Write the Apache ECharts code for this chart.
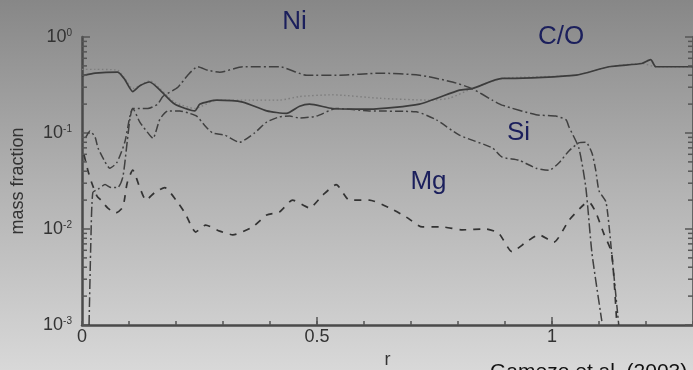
<!DOCTYPE html>
<html><head><meta charset="utf-8">
<script src="https://cdn.jsdelivr.net/npm/echarts@6/dist/echarts.min.js"></script>
<style>html,body{margin:0;padding:0;background:#aaa;}#c{width:693px;height:370px;}</style>
</head><body><div id="c"></div>
<script>
// ---- data (r, mass fraction) ----
const niR = [0.015,0.019,0.023,0.034,0.049,0.062,0.076,0.087,0.096,0.102,0.108,0.123,0.140,0.161,0.172,0.204,0.225,0.246,0.268,0.293,0.342,0.420,0.478,0.548,0.633,0.718,0.788,0.830,0.873,0.894,0.966,1.008,1.030,1.036,1.057,1.072,1.085,1.106];
const niV = [0.001,0.008,0.024,0.026,0.029,0.027,0.027,0.035,0.08,0.14,0.18,0.18,0.18,0.20,0.24,0.30,0.40,0.49,0.45,0.43,0.49,0.49,0.40,0.40,0.42,0.40,0.34,0.29,0.22,0.195,0.155,0.15,0.137,0.116,0.07,0.027,0.0056,0.0011];

const siR = [0.008,0.017,0.028,0.034,0.049,0.059,0.074,0.091,0.102,0.108,0.123,0.144,0.151,0.166,0.183,0.208,0.229,0.244,0.261,0.278,0.304,0.335,0.367,0.393,0.420,0.442,0.463,0.499,0.541,0.611,0.711,0.754,0.803,0.873,0.894,0.930,0.966,0.994,1.015,1.036,1.057,1.072,1.085,1.093,1.100,1.115,1.127,1.142];
const siV = [0.09,0.105,0.09,0.07,0.05,0.043,0.049,0.08,0.15,0.18,0.13,0.095,0.088,0.14,0.17,0.17,0.16,0.15,0.12,0.10,0.095,0.08,0.10,0.13,0.147,0.15,0.143,0.15,0.18,0.17,0.166,0.137,0.095,0.07,0.056,0.052,0.043,0.041,0.049,0.065,0.079,0.08,0.062,0.041,0.025,0.019,0.0056,0.001];

const mgR = [0.004,0.013,0.021,0.032,0.040,0.055,0.072,0.087,0.096,0.108,0.123,0.136,0.155,0.176,0.200,0.219,0.242,0.263,0.293,0.321,0.363,0.393,0.420,0.448,0.484,0.512,0.541,0.569,0.611,0.654,0.690,0.724,0.766,0.809,0.860,0.887,0.915,0.945,0.972,1.004,1.036,1.068,1.079,1.093,1.110,1.127,1.138];
const mgV = [0.06,0.04,0.03,0.022,0.02,0.0165,0.0147,0.017,0.03,0.041,0.027,0.02,0.024,0.027,0.02,0.0147,0.0093,0.011,0.0095,0.0087,0.0105,0.014,0.015,0.02,0.0166,0.0225,0.029,0.02,0.02,0.0166,0.0133,0.0105,0.0105,0.0098,0.01,0.009,0.0058,0.0073,0.0087,0.0073,0.0123,0.018,0.019,0.015,0.009,0.0056,0.001];

const coR = [0,0.006,0.028,0.076,0.091,0.108,0.123,0.144,0.166,0.197,0.240,0.251,0.287,0.342,0.393,0.435,0.463,0.484,0.533,0.611,0.718,0.803,0.830,0.894,0.909,1.051,1.121,1.191,1.210,1.221,1.30];
const coV = [0.39,0.40,0.42,0.43,0.36,0.27,0.31,0.34,0.28,0.20,0.17,0.20,0.22,0.21,0.17,0.16,0.19,0.20,0.18,0.177,0.20,0.28,0.29,0.37,0.37,0.40,0.49,0.53,0.58,0.49,0.49];

const dotR = [0,0.028,0.076,0.091,0.108,0.144,0.166,0.197,0.240,0.287,0.357,0.420,0.463,0.533,0.633,0.739,0.781,0.830,0.894,1.051,1.121,1.191,1.221,1.30];
const dotV = [0.46,0.46,0.45,0.37,0.29,0.35,0.29,0.21,0.18,0.22,0.22,0.22,0.24,0.25,0.23,0.22,0.23,0.29,0.37,0.40,0.49,0.53,0.49,0.49];

const xTickLabels = ['0','0.5','1'];
const xMajorTicks = [0.5, 1];
const yDecades = [0.001, 0.01, 0.1, 1];
const yMinorMult = [2,3,4,5,6,7,8,9];
const annotations = ['Ni','C/O','Si','Mg'];
const credit = 'Gamezo et al. (2003)';

function pairs(r, v){ return r.map((x,i)=>[x, v[i]]); }

const FONT = '"Liberation Sans", Arial, sans-serif';
const minorY = [];
yDecades.slice(0,3).forEach(d => yMinorMult.forEach(m => minorY.push(+(d*m).toPrecision(3))));
const tickData = [];
minorY.forEach(v => { tickData.push([0, v, 5, 0]); tickData.push([1.3, v, -5, 0]); });
xMajorTicks.forEach(x => tickData.push([x, 0.001, 0, -8]));

const chart = echarts.init(document.getElementById('c'), null, {renderer:'canvas'});
const lineBase = {type:'line', showSymbol:false, smooth:0.2, silent:true};
chart.setOption({
  animation:false,
  backgroundColor:{type:'linear', x:0, y:0, x2:0, y2:1, colorStops:[{offset:0,color:'#878787'},{offset:0.5,color:'#b2b2b2'},{offset:1,color:'#d8d8d8'}]},
  grid:{left:82, right:0, top:37, bottom:45, outerBoundsMode:'none'},
  xAxis:{type:'value', min:0, max:1.3, interval:0.1,
    name:'r', nameLocation:'middle', nameGap:22,
    nameTextStyle:{fontFamily:FONT, fontSize:18, color:'#333'},
    axisLine:{lineStyle:{color:'#4a4a4a', width:2.5}},
    axisTick:{inside:true, length:4, lineStyle:{color:'#555', width:1.5}},
    axisLabel:{margin:3, fontFamily:FONT, fontSize:18, color:'#333',
      formatter:v => { const s = String(Math.round(v*10)/10); return xTickLabels.includes(s) ? s : ''; }},
    splitLine:{show:false}},
  yAxis:[
    {type:'log', logBase:10, min:0.001, max:1, position:'left',
     name:'mass fraction', nameLocation:'middle', nameGap:55,
     nameTextStyle:{fontFamily:FONT, fontSize:18, color:'#333'},
     axisLine:{lineStyle:{color:'#4a4a4a', width:2.5}},
     axisTick:{inside:true, length:8, lineStyle:{color:'#555', width:1.5}},
     axisLabel:{margin:10, fontFamily:FONT, color:'#333',
       formatter:v => '{b|10}{s|' + Math.round(Math.log10(v)) + '}',
       rich:{b:{fontFamily:FONT, fontSize:18, color:'#333'}, s:{fontFamily:FONT, fontSize:10, color:'#333', verticalAlign:'top'}}},
     splitLine:{show:false}},
    {type:'log', logBase:10, min:0.001, max:1, position:'right',
     axisLine:{lineStyle:{color:'#4a4a4a', width:2.5}},
     axisTick:{inside:true, length:8, lineStyle:{color:'#555', width:1.5}},
     axisLabel:{show:false}, splitLine:{show:false}}
  ],
  series:[
    Object.assign({}, lineBase, {name:'dotted', data:pairs(dotR, dotV), z:2,
      lineStyle:{color:'#7d7d7d', width:1.4, type:[1.5,2.5]}}),
    Object.assign({}, lineBase, {name:'C/O', data:pairs(coR, coV), z:3,
      lineStyle:{color:'#3c3c3c', width:1.7, type:'solid'}}),
    Object.assign({}, lineBase, {name:'Ni', data:pairs(niR, niV), z:3,
      lineStyle:{color:'#404040', width:1.5, type:[10,3,2,3]}}),
    Object.assign({}, lineBase, {name:'Si', data:pairs(siR, siV), z:3,
      lineStyle:{color:'#404040', width:1.5, type:[8,3,2,3]}}),
    Object.assign({}, lineBase, {name:'Mg', data:pairs(mgR, mgV), z:3,
      lineStyle:{color:'#333', width:1.7, type:[7,7]}}),
    {type:'custom', silent:true, clip:false, z:6, data:tickData,
     encode:{x:0, y:1},
     renderItem:(params, api) => {
       const p = api.coord([api.value(0), api.value(1)]);
       return {type:'line', shape:{x1:p[0], y1:p[1], x2:p[0]+api.value(2), y2:p[1]+api.value(3)},
               style:{stroke:'#555', lineWidth:1.5}};
     }}
  ],
  graphic:[
    {type:'text', x:294.5, y:22, style:{text:annotations[0], font:'26px "Liberation Sans"', fill:'#1b1f5c', align:'center', verticalAlign:'middle'}},
    {type:'text', x:561, y:37, style:{text:annotations[1], font:'26px "Liberation Sans"', fill:'#1b1f5c', align:'center', verticalAlign:'middle'}},
    {type:'text', x:518.5, y:133, style:{text:annotations[2], font:'26px "Liberation Sans"', fill:'#1b1f5c', align:'center', verticalAlign:'middle'}},
    {type:'text', x:428.5, y:182, style:{text:annotations[3], font:'26px "Liberation Sans"', fill:'#1b1f5c', align:'center', verticalAlign:'middle'}},
    {type:'text', x:490, y:362, style:{text:credit, font:'21px "Liberation Sans"', fill:'#111', align:'left', verticalAlign:'top'}}
  ]
});
</script></body></html>
